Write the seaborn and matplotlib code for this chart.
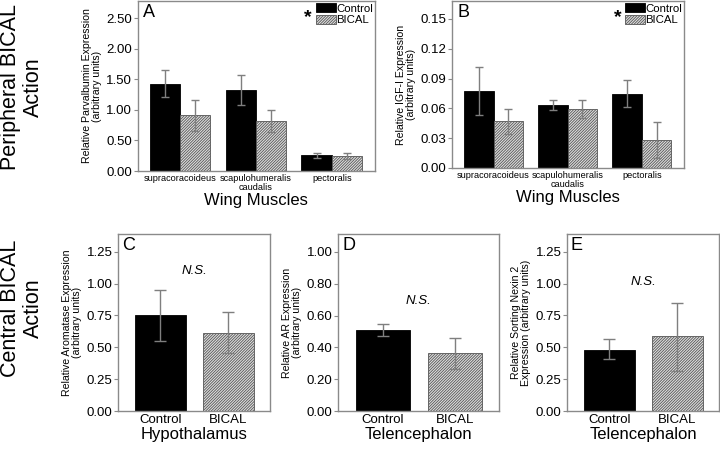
import numpy as np
import pandas as pd
import matplotlib
matplotlib.use("Agg")
import matplotlib.pyplot as plt
from matplotlib.patches import Patch
import seaborn as sns

sns.set_style("white")
plt.rcParams['font.family'] = ['Liberation Sans', 'DejaVu Sans']
plt.rcParams['hatch.linewidth'] = 0.6
plt.rcParams['hatch.color'] = '#7a7a7a'
for k in ['text.color', 'axes.labelcolor', 'xtick.labelcolor', 'ytick.labelcolor']:
    plt.rcParams[k] = 'black'

# data
groups = ["Control", "BICAL"]
muscles = ["supracoracoideus", "scapulohumeralis\ncaudalis", "pectoralis"]

# A: parvalbumin
parv_ctrl = [1.43, 1.32, 0.26]
parv_ctrl_lo = [1.21, 1.08, 0.21]
parv_ctrl_hi = [1.65, 1.57, 0.30]
parv_bical = [0.91, 0.82, 0.245]
parv_bical_lo = [0.66, 0.64, 0.19]
parv_bical_hi = [1.16, 1.00, 0.29]

# B: IGF-I
igf_ctrl = [0.0773, 0.0637, 0.0747]
igf_ctrl_lo = [0.0534, 0.0587, 0.0614]
igf_ctrl_hi = [0.1015, 0.0687, 0.0886]
igf_bical = [0.0468, 0.0594, 0.0279]
igf_bical_lo = [0.0342, 0.0500, 0.0100]
igf_bical_hi = [0.0597, 0.0680, 0.0458]

# C: aromatase (hypothalamus)
arom = [0.753, 0.613]
arom_lo = [0.550, 0.453]
arom_hi = [0.953, 0.774]

# D: AR (telencephalon)
ar = [0.507, 0.362]
ar_lo = [0.474, 0.267]
ar_hi = [0.545, 0.459]

# E: sorting nexin 2 (telencephalon)
snx = [0.479, 0.587]
snx_lo = [0.405, 0.318]
snx_hi = [0.563, 0.847]

CTRL_COL = "black"
BICAL_COL = "#dedede"
HATCH = "////////////"
ERR_COL = "#7f7f7f"
SPINE_COL = "#8a8a8a"

fig = plt.figure(figsize=(7.2, 4.5), dpi=100)


def px_rect(l, t, r, b):
    return [l / 720, (450 - b) / 450, (r - l) / 720, (b - t) / 450]


def style_axes(ax, ylim, yticks, ylabel, letter, xlabel):
    ax.set_ylim(*ylim)
    ax.set_yticks(yticks)
    ax.set_yticklabels(["%.2f" % v for v in yticks], fontsize=9.5)
    ax.set_ylabel(ylabel, fontsize=7.6, linespacing=1.05, labelpad=3)
    ax.set_xlabel(xlabel, fontsize=12, labelpad=1)
    for s in ax.spines.values():
        s.set_color(SPINE_COL)
        s.set_linewidth(1.0)
    ax.tick_params(axis="y", length=3, width=0.8, color=SPINE_COL, pad=1, left=True)
    ax.tick_params(axis="x", length=0, pad=2)
    ax.text(0.025, 0.985, letter, transform=ax.transAxes, fontsize=13,
            ha="left", va="top")


def style_bical(patches):
    for p in patches:
        p.set_facecolor(BICAL_COL)
        p.set_hatch(HATCH)
        p.set_edgecolor("#555555")
        p.set_linewidth(0.6)


def add_err(ax, patches, means, lo, hi, cap):
    xs = [p.get_x() + p.get_width() / 2 for p in patches]
    m = np.array(means)
    yerr = [m - np.array(lo), np.array(hi) - m]
    ax.errorbar(xs, m, yerr=yerr, fmt="none", ecolor=ERR_COL, elinewidth=1.0,
                capsize=cap, capthick=1.0, zorder=5)


def muscle_panel(rect, ctrl, clo, chi, bic, blo, bhi, ylim, yticks, ylabel, letter):
    ax = fig.add_axes(rect)
    df = pd.DataFrame({
        "muscle": muscles * 2,
        "group": [groups[0]] * 3 + [groups[1]] * 3,
        "value": ctrl + bic,
    })
    sns.barplot(data=df, x="muscle", y="value", hue="group", order=muscles,
                hue_order=groups, palette=[CTRL_COL, BICAL_COL], width=0.8,
                errorbar=None, legend=False, ax=ax, edgecolor="black", linewidth=0.6)
    style_bical(ax.containers[1].patches)
    add_err(ax, ax.containers[0].patches, ctrl, clo, chi, 3)
    add_err(ax, ax.containers[1].patches, bic, blo, bhi, 3)
    ax.set_xlim(-0.56, 2.57)
    ax.set_xticks(range(3))
    ax.set_xticklabels(muscles, fontsize=6.6, linespacing=1.0)
    style_axes(ax, ylim, yticks, ylabel, letter, "Wing Muscles")
    handles = [Patch(facecolor=CTRL_COL, edgecolor="black", linewidth=0.6),
               Patch(facecolor=BICAL_COL, edgecolor="#555555", hatch=HATCH, linewidth=0.6)]
    ax.legend(handles, groups, loc="upper right", frameon=False, fontsize=8.2,
              handlelength=1.75, handleheight=0.8, handletextpad=0.0,
              labelspacing=0.12, borderaxespad=0.1, borderpad=0.1)
    ax.text(0.715, 0.9, "*", transform=ax.transAxes, fontsize=14,
            ha="center", va="center", fontweight="bold", zorder=20)
    return ax


def pair_panel(rect, vals, lo, hi, ylim, yticks, ylabel, letter, xlabel, ns_y):
    ax = fig.add_axes(rect)
    sns.barplot(x=groups, y=vals, hue=groups, hue_order=groups,
                palette=[CTRL_COL, BICAL_COL], width=0.75, errorbar=None,
                legend=False, ax=ax, edgecolor="black", linewidth=0.6)
    style_bical(ax.containers[1].patches)
    add_err(ax, ax.containers[0].patches, vals[:1], lo[:1], hi[:1], 4.5)
    add_err(ax, ax.containers[1].patches, vals[1:], lo[1:], hi[1:], 4.5)
    ax.set_xlim(-0.62, 1.61)
    ax.set_xticks([0, 1])
    ax.set_xticklabels(groups, fontsize=9.5)
    style_axes(ax, ylim, yticks, ylabel, letter, xlabel)
    ax.text(0.5, ns_y, "N.S.", fontsize=9.5, style="italic", ha="center", va="center")
    return ax


muscle_panel(px_rect(137.5, 1, 375, 171), parv_ctrl, parv_ctrl_lo, parv_ctrl_hi,
             parv_bical, parv_bical_lo, parv_bical_hi, (0, 2.78),
             [0, 0.5, 1.0, 1.5, 2.0, 2.5],
             "Relative Parvalbumin Expression\n(arbitrary units)", "A")
muscle_panel(px_rect(452, 1, 684, 168), igf_ctrl, igf_ctrl_lo, igf_ctrl_hi,
             igf_bical, igf_bical_lo, igf_bical_hi, (0, 0.168),
             [0, 0.03, 0.06, 0.09, 0.12, 0.15],
             "Relative IGF-I Expression\n(arbitrary units)", "B")

pair_panel(px_rect(118, 234, 270, 411), arom, arom_lo, arom_hi, (0, 1.39),
           [0, 0.25, 0.5, 0.75, 1.0, 1.25],
           "Relative Aromatase Expression\n(arbitrary units)", "C", "Hypothalamus", 1.1)
pair_panel(px_rect(338, 234, 499, 411), ar, ar_lo, ar_hi, (0, 1.113),
           [0, 0.2, 0.4, 0.6, 0.8, 1.0],
           "Relative AR Expression\n(arbitrary units)", "D", "Telencephalon", 0.69)
pair_panel(px_rect(567, 234, 719, 411), snx, snx_lo, snx_hi, (0, 1.39),
           [0, 0.25, 0.5, 0.75, 1.0, 1.25],
           "Relative Sorting Nexin 2\nExpression (arbitrary units)", "E", "Telencephalon", 1.01)

fig.text(22 / 720, 1 - 87 / 450, "Peripheral BICAL\nAction", rotation=90,
         fontsize=15.5, ha="center", va="center", linespacing=1.1)
fig.text(22 / 720, 1 - 308 / 450, "Central BICAL\nAction", rotation=90,
         fontsize=15.5, ha="center", va="center", linespacing=1.1)

fig.savefig("out.png", dpi=100)
